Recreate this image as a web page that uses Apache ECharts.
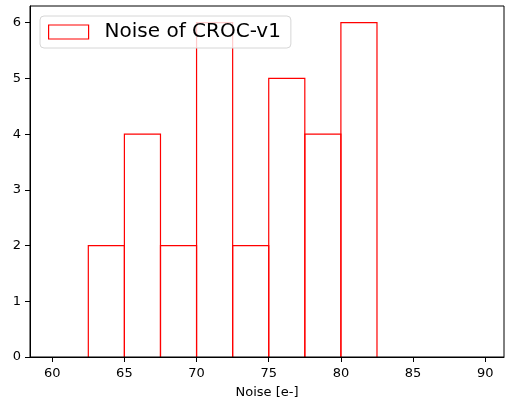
<!DOCTYPE html>
<html>
<head>
<meta charset="utf-8">
<script src="https://cdn.jsdelivr.net/npm/echarts@6/dist/echarts.min.js"></script>
<style>html,body{margin:0;padding:0;background:#fff}#c{width:507px;height:400px}</style>
</head>
<body>
<div id="c"></div>
<script>
// Histogram data (bin edges and counts)
const binEdges = [60, 62.5, 65, 67.5, 70, 72.5, 75, 77.5, 80, 82.5, 85, 87.5, 90];
const counts = [0, 2, 4, 2, 6, 2, 5, 4, 6, 0, 0, 0];
const xTicks = [60, 65, 70, 75, 80, 85, 90];
const yTicks = [0, 1, 2, 3, 4, 5, 6];
const seriesName = 'Noise of CROC-v1';
const xLabel = 'Noise [e-]';

const data = counts.map((c, i) => [binEdges[i], binEdges[i + 1], c]);
const font = 'DejaVu Sans';
const chart = echarts.init(document.getElementById('c'), null, {renderer: 'canvas'});
chart.setOption({
  animation: false,
  backgroundColor: '#fff',
  grid: {left: 30, right: 3, top: 6, bottom: 43, outerBoundsMode: 'none', containLabel: false, show: true, borderColor: '#000', borderWidth: 1, backgroundColor: 'transparent', z: 5},
  legend: {
    left: 40, top: 16,
    padding: [6, 10, 6, 8],
    borderColor: '#d6d6d6', borderWidth: 1, borderRadius: 4,
    backgroundColor: 'rgba(255,255,255,0.8)',
    itemWidth: 40, itemHeight: 14,
    textStyle: {fontFamily: font, fontSize: 20, color: '#000', padding: [0, 0, 0, 11]},
    data: [{name: seriesName, icon: 'rect', itemStyle: {color: '#fff', borderColor: '#ff0000', borderWidth: 1.2}}]
  },
  xAxis: {
    type: 'value', min: 58.46, max: 91.3, z: 10,
    name: xLabel, nameLocation: 'middle', nameGap: 29,
    nameTextStyle: {fontFamily: font, fontSize: 13, color: '#000'},
    axisLine: {show: true, lineStyle: {color: '#000', width: 1}},
    axisTick: {show: true, length: 5, lineStyle: {color: '#000'}, customValues: xTicks},
    axisLabel: {fontFamily: font, fontSize: 13, color: '#000', margin: 10, customValues: xTicks},
    splitLine: {show: false}
  },
  yAxis: {
    type: 'value', min: 0, max: 6.3, z: 10,
    axisLine: {show: true, lineStyle: {color: '#000', width: 1}},
    axisTick: {show: true, length: 5, lineStyle: {color: '#000'}, customValues: yTicks},
    axisLabel: {fontFamily: font, fontSize: 13, color: '#000', margin: 9, customValues: yTicks},
    splitLine: {show: false}
  },
  series: [{
    type: 'custom', name: seriesName, z: 2,
    itemStyle: {color: '#ff0000'},
    renderItem: function (params, api) {
      if (api.value(2) === 0) return {type: 'group', children: []};
      const p0 = api.coord([api.value(0), 0]);
      const p1 = api.coord([api.value(1), api.value(2)]);
      return {
        type: 'polyline',
        shape: {points: [[p0[0], p0[1]], [p0[0], p1[1]], [p1[0], p1[1]], [p1[0], p0[1]]]},
        style: {fill: 'none', stroke: '#ff0000', lineWidth: 1.2}
      };
    },
    encode: {x: [0, 1], y: 2},
    data: data
  }]
});
</script>
</body>
</html>
